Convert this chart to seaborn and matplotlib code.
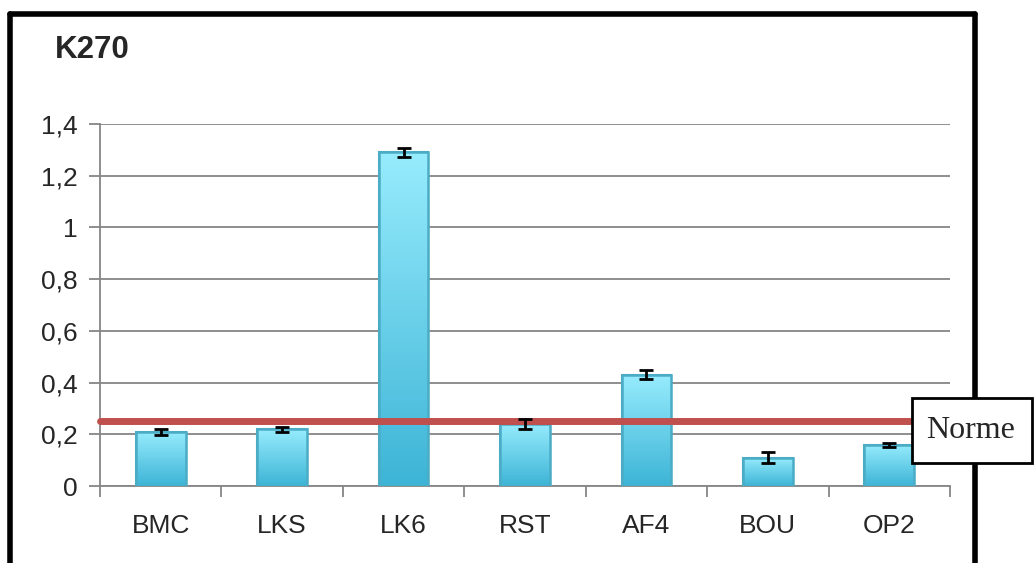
import numpy as np
import pandas as pd
import matplotlib
matplotlib.use("Agg")
import matplotlib.pyplot as plt
from matplotlib.patches import Rectangle
from matplotlib.colors import LinearSegmentedColormap
import seaborn as sns

# Data
samples = ["BMC", "LKS", "LK6", "RST", "AF4", "BOU", "OP2"]
k270 = [0.21, 0.22, 1.29, 0.24, 0.43, 0.11, 0.16]
k270_err = [0.012, 0.010, 0.017, 0.020, 0.018, 0.020, 0.008]
norme = 0.25
y_ticks = [0, 0.2, 0.4, 0.6, 0.8, 1, 1.2, 1.4]

sns.set_style("white")
plt.rcParams["font.family"] = ["Liberation Sans", "DejaVu Sans"]

df = pd.DataFrame({"sample": samples, "k270": k270})

fig = plt.figure(figsize=(10.34, 5.63), dpi=100)
ax = fig.add_axes([100 / 1034, 1 - 486 / 563, 850 / 1034, 362 / 563])

sns.barplot(data=df, x="sample", y="k270", ax=ax, width=0.41,
            color="#6FD3EC", edgecolor="#4BACC6", linewidth=1.5, zorder=3)

# gradient fill for each bar
grad = LinearSegmentedColormap.from_list("bar", ["#3DB4D6", "#97ECFD"])
gimg = np.linspace(0, 1, 256).reshape(-1, 1)
for p in ax.patches:
    x0, y0 = p.get_x(), p.get_y()
    w, h = p.get_width(), p.get_height()
    im = ax.imshow(gimg, cmap=grad, origin="lower", aspect="auto",
                   extent=[x0, x0 + w, y0, y0 + h], zorder=3.5)
    im.set_clip_path(p)
    ax.add_patch(Rectangle((x0, y0), w, h, fill=False, edgecolor="#4BACC6",
                           linewidth=1.8, zorder=4))

ax.errorbar(np.arange(len(samples)), k270, yerr=k270_err, fmt="none",
            ecolor="black", elinewidth=2, capsize=5, capthick=2, zorder=6)

# norme line
ax.axhline(norme, color="#C0504D", linewidth=5, zorder=5, clip_on=False)

ax.set_xlim(-0.5, len(samples) - 0.5)
ax.set_ylim(0, 1.4)
ax.set_yticks(y_ticks)
ax.set_yticklabels([f"{t:g}".replace(".", ",") for t in y_ticks], fontsize=19)
ax.set_xticks(range(len(samples)))
ax.set_xticklabels(samples, fontsize=19)
ax.set_xlabel("")
ax.set_ylabel("")
ax.grid(axis="y", color="#868686", linewidth=1.3, zorder=0)
ax.set_axisbelow(True)

for s in ["top", "right"]:
    ax.spines[s].set_visible(False)
for s in ["left", "bottom"]:
    ax.spines[s].set_color("#868686")
    ax.spines[s].set_linewidth(1.3)

ax.tick_params(axis="y", which="major", left=True, length=8, width=1.3,
               color="#868686", pad=8)
ax.tick_params(axis="x", which="major", bottom=False, pad=17)
ax.set_xticks(np.arange(len(samples) + 1) - 0.5, minor=True)
ax.tick_params(axis="x", which="minor", bottom=True, length=8, width=1.3,
               color="#868686")

fig.text(55 / 1034, 1 - 50 / 563, "K270", fontsize=22.5, fontweight="bold",
         va="center", ha="left")

# outer frame (no bottom edge)
W, H = 1034, 563
frame_kw = dict(color="black", linewidth=4, transform=fig.transFigure)
fig.add_artist(plt.Line2D([10 / W, 10 / W], [0, 1 - 14 / H], **frame_kw))
fig.add_artist(plt.Line2D([10 / W, 975 / W], [1 - 14 / H, 1 - 14 / H], **frame_kw))
fig.add_artist(plt.Line2D([975 / W, 975 / W], [0, 1 - 14 / H], **frame_kw))

# legend box for norme
fig.add_artist(Rectangle((912 / W, 1 - 463 / H), 120 / W, 65 / H,
                         transform=fig.transFigure, facecolor="white",
                         edgecolor="black", linewidth=2, zorder=10))
fig.text(971 / W, 1 - 430 / H, "Norme", fontsize=23,
         family=["Liberation Serif", "DejaVu Serif"], ha="center",
         va="center", zorder=11)

fig.savefig("out.png", dpi=100)
